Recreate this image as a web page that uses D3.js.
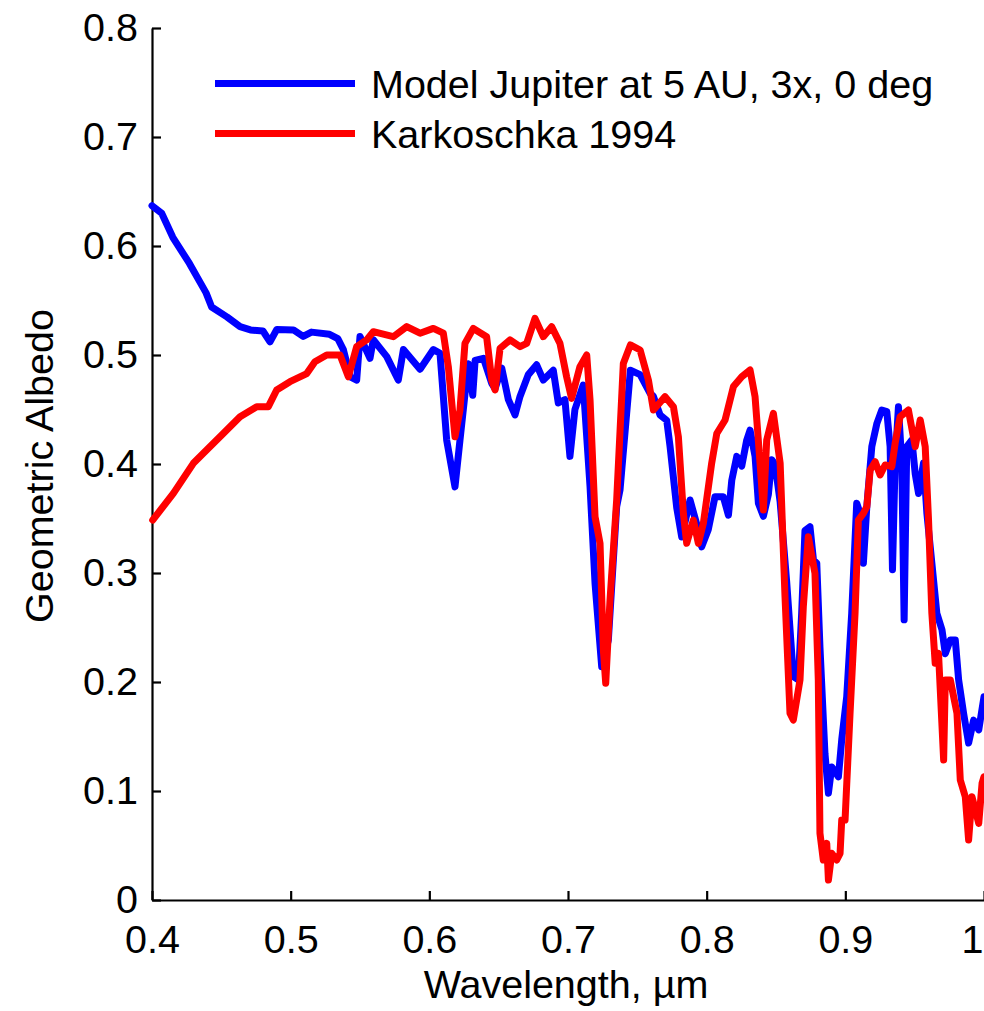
<!DOCTYPE html>
<html>
<head>
<meta charset="utf-8">
<script src="https://cdn.jsdelivr.net/npm/d3@7/dist/d3.min.js"></script>
<style>
  html, body { margin: 0; padding: 0; background: #fff; }
  svg { display: block; }
  text { font-family: "Liberation Sans", Arial, Helvetica, sans-serif; fill: #000; }
</style>
</head>
<body>
<svg id="chart" width="984" height="1011"></svg>
<script>
// Geometric albedo spectra: wavelength (µm) and albedo pairs
const modelWavelength = [
  0.400, 0.407, 0.415, 0.427, 0.439, 0.443, 0.454, 0.4635, 0.471, 0.480,
  0.4851, 0.490, 0.502, 0.509, 0.515, 0.528, 0.534, 0.538, 0.543, 0.5476,
  0.550, 0.5572, 0.5596, 0.5693, 0.5776, 0.5813, 0.5933, 0.6029, 0.6077, 0.6125,
  0.6185, 0.6221, 0.6281, 0.6313, 0.633, 0.639, 0.645, 0.6474, 0.6522, 0.657,
  0.6618, 0.6654, 0.6714, 0.6774, 0.6822, 0.6894, 0.693, 0.6978, 0.7014, 0.705,
  0.711, 0.7159, 0.7195, 0.7243, 0.7291, 0.7351, 0.7375, 0.745, 0.752, 0.7591,
  0.7616, 0.7664, 0.7712, 0.7736, 0.7784, 0.782, 0.788, 0.7928, 0.7964, 0.8012,
  0.806, 0.812, 0.8157, 0.8181, 0.8217, 0.8253, 0.8289, 0.8313, 0.8349, 0.8373,
  0.8409, 0.8445, 0.8469, 0.8493, 0.853, 0.8577, 0.8625, 0.8661, 0.8685, 0.8709,
  0.8745, 0.877, 0.8794, 0.8817, 0.8853, 0.8878, 0.8902, 0.895, 0.8974, 0.901,
  0.9046, 0.9082, 0.9106, 0.913, 0.9155, 0.9191, 0.9227, 0.9263, 0.9299, 0.9323,
  0.934, 0.9359, 0.9383, 0.9407, 0.9424, 0.9443, 0.948, 0.9504, 0.9528, 0.9564,
  0.9588, 0.9624, 0.966, 0.9697, 0.9721, 0.9757, 0.9793, 0.9817, 0.9853, 0.9889,
  0.9925, 0.9962, 1.000
];
const modelAlbedo = [
  0.637, 0.630, 0.608, 0.584, 0.557, 0.544, 0.535, 0.526, 0.523, 0.522,
  0.512, 0.5235, 0.523, 0.517, 0.521, 0.519, 0.515, 0.505, 0.480, 0.477,
  0.517, 0.497, 0.514, 0.4985, 0.477, 0.505, 0.487, 0.505, 0.5015, 0.422,
  0.379, 0.422, 0.492, 0.463, 0.495, 0.497, 0.474, 0.469, 0.488, 0.459,
  0.445, 0.462, 0.482, 0.491, 0.477, 0.486, 0.456, 0.459, 0.407, 0.450,
  0.4725, 0.379, 0.2905, 0.214, 0.2385, 0.361, 0.376, 0.486, 0.482, 0.465,
  0.462, 0.445, 0.440, 0.416, 0.360, 0.333, 0.367, 0.345, 0.324, 0.340,
  0.370, 0.370, 0.353, 0.385, 0.407, 0.398, 0.422, 0.431, 0.407, 0.364,
  0.352, 0.372, 0.404, 0.400, 0.365, 0.292, 0.205, 0.202, 0.263, 0.339,
  0.3425, 0.312, 0.309, 0.232, 0.1345, 0.098, 0.122, 0.113, 0.147, 0.1865,
  0.263, 0.364, 0.355, 0.309, 0.361, 0.416, 0.437, 0.4495, 0.448, 0.416,
  0.303, 0.401, 0.4526, 0.401, 0.257, 0.416, 0.422, 0.391, 0.373, 0.401,
  0.355, 0.309, 0.263, 0.248, 0.226, 0.2385, 0.2385, 0.202, 0.171, 0.144,
  0.165, 0.156, 0.1865
];

const obsWavelength = [
  0.4005, 0.4154, 0.4298, 0.4394, 0.4514, 0.4635, 0.4755, 0.4839, 0.4899, 0.4995,
  0.5116, 0.5175, 0.526, 0.5356, 0.5416, 0.5476, 0.5548, 0.5596, 0.574, 0.5837,
  0.5933, 0.6029, 0.6101, 0.6137, 0.6185, 0.6221, 0.6257, 0.6317, 0.6413, 0.645,
  0.6474, 0.651, 0.6582, 0.6654, 0.6702, 0.6762, 0.6822, 0.6882, 0.6942, 0.699,
  0.7026, 0.7086, 0.7135, 0.7159, 0.7195, 0.7231, 0.7255, 0.7272, 0.7303, 0.7351,
  0.7399, 0.745, 0.752, 0.758, 0.7616, 0.770, 0.776, 0.7796, 0.7832, 0.7856,
  0.7904, 0.794, 0.7976, 0.8036, 0.8073, 0.8133, 0.8193, 0.8253, 0.8313, 0.8349,
  0.8385, 0.8409, 0.8433, 0.8481, 0.853, 0.8565, 0.8601, 0.8625, 0.8673, 0.8697,
  0.8733, 0.8781, 0.8805, 0.8817, 0.8841, 0.8866, 0.8878, 0.8902, 0.8938, 0.8962,
  0.8974, 0.8998, 0.9034, 0.907, 0.9094, 0.913, 0.9155, 0.9179, 0.9215, 0.9251,
  0.9287, 0.9335, 0.9359, 0.9395, 0.9455, 0.9504, 0.954, 0.9576, 0.960, 0.9624,
  0.9648, 0.9672, 0.9709, 0.9721, 0.9757, 0.9805, 0.9829, 0.9865, 0.9889, 0.9913,
  0.9962, 0.9986, 1.000
];
const obsAlbedo = [
  0.3486, 0.373, 0.4006, 0.4128, 0.428, 0.4434, 0.4526, 0.4526, 0.4679, 0.4755,
  0.483, 0.4938, 0.500, 0.500, 0.480, 0.5076, 0.5138, 0.5214, 0.5168, 0.526,
  0.520, 0.5244, 0.520, 0.4893, 0.425, 0.4495, 0.5107, 0.5244, 0.5168, 0.477,
  0.4679, 0.5061, 0.5138, 0.5076, 0.5107, 0.5336, 0.5168, 0.526, 0.5107, 0.480,
  0.4602, 0.4893, 0.500, 0.4587, 0.3516, 0.3272, 0.2294, 0.1988, 0.2752, 0.367,
  0.4923, 0.5092, 0.5046, 0.477, 0.4495, 0.4618, 0.4526, 0.425, 0.3547, 0.3272,
  0.3486, 0.3272, 0.3455, 0.4006, 0.428, 0.4404, 0.471, 0.480, 0.4862, 0.4618,
  0.4006, 0.3578, 0.422, 0.4465, 0.4006, 0.2783, 0.1713, 0.1651, 0.2018, 0.2691,
  0.3333, 0.2997, 0.2018, 0.0612, 0.0367, 0.052, 0.0183, 0.0428, 0.0367, 0.0428,
  0.0734, 0.0734, 0.1713, 0.263, 0.3486, 0.3547, 0.3608, 0.3945, 0.4021, 0.3899,
  0.3991, 0.3975, 0.4189, 0.4434, 0.4495, 0.4159, 0.4404, 0.4159, 0.3486, 0.263,
  0.2171, 0.2263, 0.1284, 0.2018, 0.2018, 0.1713, 0.1101, 0.0948, 0.055, 0.0948,
  0.0703, 0.107, 0.113
];

const xTicks = [0.4, 0.5, 0.6, 0.7, 0.8, 0.9, 1.0];
const xTickLabels = ["0.4", "0.5", "0.6", "0.7", "0.8", "0.9", "1"];
const yTicks = [0, 0.1, 0.2, 0.3, 0.4, 0.5, 0.6, 0.7, 0.8];
const yTickLabels = ["0", "0.1", "0.2", "0.3", "0.4", "0.5", "0.6", "0.7", "0.8"];

const seriesNames = ["Model Jupiter at 5 AU, 3x, 0 deg", "Karkoschka 1994"];
const seriesColors = ["#0000ff", "#ff0000"];

const svg = d3.select("#chart");
const margin = { left: 152, right: 0, top: 28, bottom: 111 };
const W = 984, H = 1011;

const x = d3.scaleLinear().domain([0.4, 1.0]).range([margin.left, W - margin.right]);
const y = d3.scaleLinear().domain([0, 0.8]).range([H - margin.bottom, margin.top]);

const FONT = 39.5;

// Axes (ticks pointing into the plot)
const xAxis = d3.axisBottom(x)
  .tickValues(xTicks)
  .tickFormat((d, i) => xTickLabels[i])
  .tickSizeInner(-9).tickSizeOuter(0).tickPadding(25);
const yAxis = d3.axisLeft(y)
  .tickValues(yTicks)
  .tickFormat((d, i) => yTickLabels[i])
  .tickSizeInner(-9).tickSizeOuter(0).tickPadding(14);

const gx = svg.append("g").attr("transform", `translate(0,${y(0)})`).call(xAxis);
const gy = svg.append("g").attr("transform", `translate(${x(0.4)},0)`).call(yAxis);

[gx, gy].forEach(g => {
  g.select(".domain").attr("stroke", "#000").attr("stroke-width", 2.2);
  g.selectAll(".tick line").attr("stroke", "#000").attr("stroke-width", 2.2);
  g.selectAll(".tick text")
    .attr("font-size", FONT)
    .attr("font-family", "Liberation Sans, Arial, Helvetica, sans-serif")
    .attr("fill", "#000");
});

// keep the last x label inside the right edge of the figure
gx.selectAll(".tick text")
  .filter((d, i) => i === xTicks.length - 1)
  .attr("text-anchor", "end")
  .attr("dx", -1);

// Axis titles
svg.append("text")
  .attr("x", 566).attr("y", 998)
  .attr("text-anchor", "middle")
  .attr("font-size", FONT)
  .text("Wavelength, \u00b5m");

svg.append("text")
  .attr("transform", "translate(53,466) rotate(-90)")
  .attr("text-anchor", "middle")
  .attr("font-size", FONT)
  .text("Geometric Albedo");

// Spectra
const line = d3.line()
  .x(d => x(d[0]))
  .y(d => y(d[1]))
  .curve(d3.curveLinear);

const series = [
  d3.zip(modelWavelength, modelAlbedo),
  d3.zip(obsWavelength, obsAlbedo)
];

svg.append("g")
  .selectAll("path")
  .data(series)
  .join("path")
  .attr("d", line)
  .attr("fill", "none")
  .attr("stroke", (d, i) => seriesColors[i])
  .attr("stroke-width", 7)
  .attr("stroke-linejoin", "round")
  .attr("stroke-linecap", "round");

// Legend
const legend = svg.append("g");
const legendRows = legend.selectAll("g")
  .data(seriesNames)
  .join("g")
  .attr("transform", (d, i) => `translate(215,${83.5 + i * 50})`);
legendRows.append("line")
  .attr("x1", 0).attr("x2", 140)
  .attr("y1", 0).attr("y2", 0)
  .attr("stroke", (d, i) => seriesColors[i])
  .attr("stroke-width", 7);
legendRows.append("text")
  .attr("x", 156).attr("y", 14.5)
  .attr("font-size", FONT)
  .text(d => d);
</script>
</body>
</html>
